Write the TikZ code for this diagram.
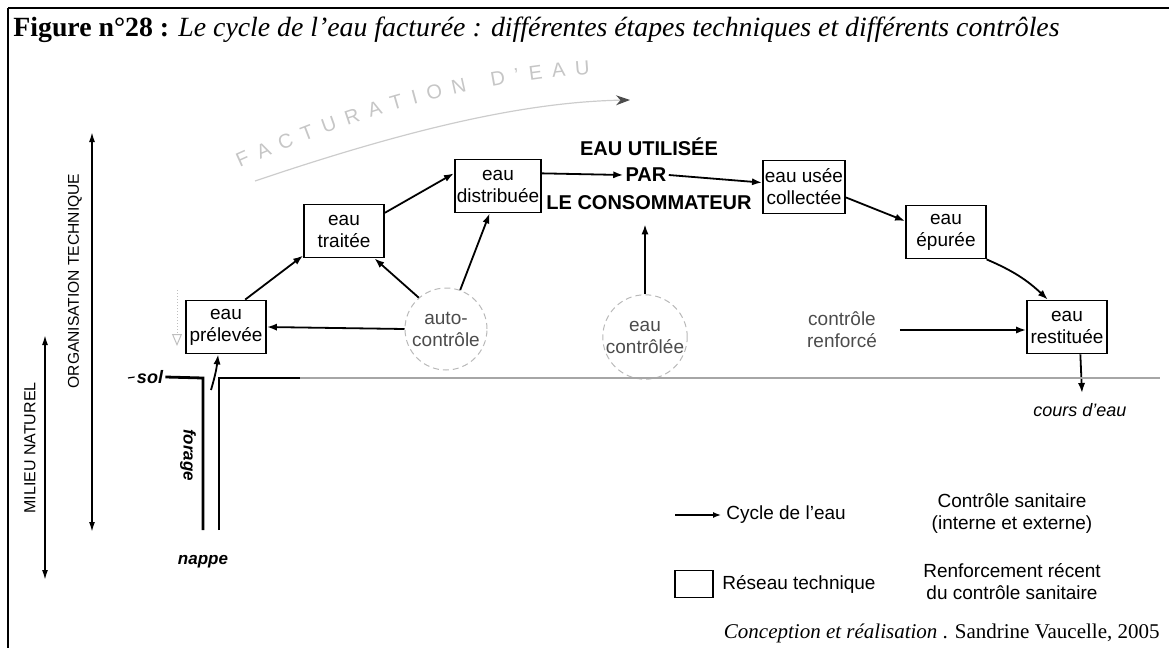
\documentclass[tikz,border=0pt]{standalone}
\usepackage{fontspec}
\setmainfont{Liberation Serif}
\setsansfont{Liberation Sans}
\usetikzlibrary{arrows.meta,decorations.text,calc}
\begin{document}
\begin{tikzpicture}[x=0.5pt,y=-0.5pt,
  txt/.style={font=\sffamily\fontsize{9.5}{11}\selectfont,align=center},
  box/.style={txt,draw,line width=0.9pt,minimum width=40pt,minimum height=26.5pt,inner sep=1pt},
  ctrl/.style={txt,circle,draw=gray!55,densely dashed,line width=0.5pt,minimum size=41pt,inner sep=0pt,text=black!70},
  flow/.style={-{Latex[length=5pt,width=3.6pt]},line width=0.9pt},
  cons/.style={font=\sffamily\bfseries\fontsize{10}{12}\selectfont,inner sep=1pt},
  axis/.style={{Latex[length=5pt,width=3pt]}-{Latex[length=5pt,width=3pt]},line width=0.8pt},
  axlbl/.style={font=\sffamily\fontsize{7.8}{9}\selectfont,rotate=90},
  pipe/.style={line width=1.4pt},
  faint/.style={gray!40,line width=0.6pt}]
\useasboundingbox (0,0) rectangle (1169,648);
% frame
\draw[line width=1pt] (8,8) -- (1169,8);
\draw[line width=1pt] (8,8) -- (8,648);
% title
\node[anchor=base west,inner sep=0pt,font=\fontsize{13.9}{16}\selectfont] (title) at (13,37)
  {\textbf{Figure n°28 :} \textit{Le cycle de l'eau facturée : différentes étapes techniques et différents contrôles}};
% faint arc
\path[decorate,decoration={text along path,text align={fit to path},
  text={|\sffamily\fontsize{10}{10}\selectfont\color{gray!45}|FACTURATION D'EAU}}]
  (240,168) .. controls (350,118) and (470,82) .. (590,74);
\coordinate (arcA) at (255,181);
\coordinate (arcB) at (630,100);
\draw[faint,-{Stealth[length=7pt,width=5pt,black!70]}] (arcA) .. controls (400,132) and (520,102) .. (arcB);
% boxes
\node[box] (prel) at (226,327) {eau\\prélevée};
\node[box] (trait) at (344,231) {eau\\traitée};
\node[box] (distr) at (498,186) {eau\\distribuée};
\node[box] (coll) at (804,187) {eau usée\\collectée};
\node[box] (epur) at (946,232) {eau\\épurée};
\node[box] (rest) at (1067,327) {eau\\restituée};
% controls
\node[ctrl] (auto) at (446,329) {auto-\\contrôle};
\node[ctrl] (ctrlee) at (645,337) {eau\\contrôlée};
\node[txt,text=black!70] (renf) at (842,330) {contrôle\\renforcé};
% consumer
\node[cons] (eu) at (649,147) {EAU UTILISÉE};
\node[cons] (par) at (646,175) {PAR};
\node[cons] (cons) at (649,203) {LE CONSOMMATEUR};
% cycle arrows
\draw[flow] (prel.55) -- (trait.211);
\draw[flow] (trait.24) -- (distr.164);
\draw[flow] (distr.16) -- (par.west);
\draw[flow] (par.east) -- (coll.174);
\draw[flow] (coll.-14) -- (epur.165);
\draw[flow] (epur.-34) to[bend left=10] (rest.125);
% control arrows
\draw[flow] (auto.west) -- (prel.east);
\draw[flow] (auto.131) -- (trait.-42);
\draw[flow] (auto.70) -- (distr.-107);
\draw[flow,shorten >=6pt] (ctrlee.north) -- (ctrlee.north |- cons.south);
\draw[flow,shorten <=8pt] (renf.east) -- (renf.east -| rest.west);
% outlet
\coordinate (outlet) at (1082,393);
\draw[flow] (rest.-64) -- (outlet);
\node[txt,font=\sffamily\itshape\fontsize{9}{11}\selectfont] (cours) at (1080,410) {cours d'eau};
% ground and well
\node[txt,font=\sffamily\itshape\bfseries\fontsize{9}{11}\selectfont,inner sep=1pt] (sol) at (150,377) {sol};
\draw[line width=0.6pt] (128,378) -- (sol.west);
\draw[pipe] (sol.east) -- (203,378) -- (203,530);
\draw[pipe] (219,530) -- (219,378) -- (300,378);
\draw[gray!70,line width=0.8pt] (300,378) -- (1160,378);
\coordinate (well) at (211,390);
\draw[flow] (well) to[bend right=5] (prel.-106);
\node[txt,font=\sffamily\itshape\bfseries\fontsize{8.5}{10}\selectfont,rotate=-90] (forage) at (188,455) {forage};
\node[txt,font=\sffamily\itshape\bfseries\fontsize{8.5}{10}\selectfont] (nappe) at (203,562) {nappe};
% faint left control mark
\coordinate (fa) at (177,290);
\coordinate (fb) at (177,346);
\draw[gray!50,densely dotted,line width=0.5pt,-{Triangle[open,length=6pt,width=5pt]}] (fa) -- (fb);
% axes
\coordinate (ot1) at (92,132);
\coordinate (ot2) at (92,532);
\draw[axis] (ot1) -- (ot2);
\node[axlbl] (otl) at (75,281) {ORGANISATION TECHNIQUE};
\coordinate (mn1) at (45,335);
\coordinate (mn2) at (45,580);
\draw[axis] (mn1) -- (mn2);
\node[axlbl,font=\sffamily\fontsize{8}{9}\selectfont] (mnl) at (30,448) {MILIEU NATUREL};
% legend
\coordinate (lg1) at (675,515);
\coordinate (lg2) at (721,515);
\draw[-{Latex[length=4pt,width=3pt]},line width=0.7pt] (lg1) -- (lg2);
\node[txt,anchor=west,inner sep=1pt] (lgcycle) at (724,515) {Cycle de l'eau};
\node[draw,line width=0.8pt,minimum width=19pt,minimum height=13.5pt,inner sep=0pt] (lgbox) at (694,584) {};
\node[txt,anchor=west,inner sep=1pt] (lgres) at (720,584) {Réseau technique};
\node[txt] (lgsan) at (1012,514) {Contrôle sanitaire\\(interne et externe)};
\node[txt] (lgren) at (1012,582) {Renforcement récent\\du contrôle sanitaire};
% credit
\node[anchor=base east,inner sep=0pt,font=\fontsize{10.5}{12}\selectfont] (credit) at (1160,638)
  {\textit{Conception et réalisation} . Sandrine Vaucelle, 2005};
\end{tikzpicture}
\end{document}
